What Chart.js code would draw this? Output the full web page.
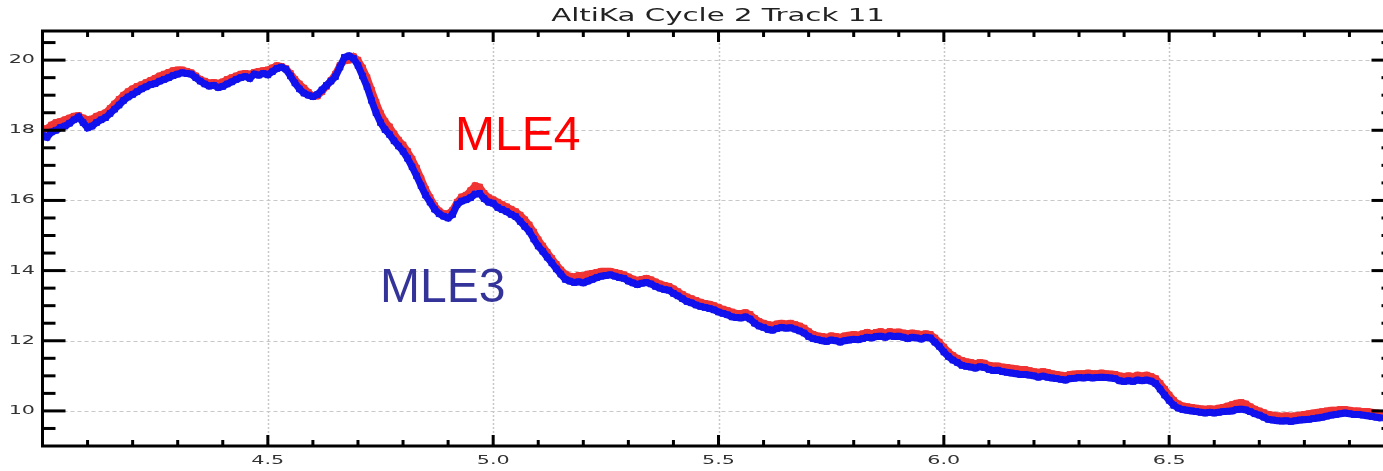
<!DOCTYPE html>
<html>
<head>
<meta charset="utf-8">
<script src="https://cdn.jsdelivr.net/npm/chart.js@4/dist/chart.umd.min.js"></script>
<style>
  html, body { margin: 0; padding: 0; background: #fff; overflow: hidden; }
  #wrap { width: 1383px; height: 471px; overflow: hidden; }
  canvas { display: block; }
</style>
</head>
<body>
<div id="wrap"><canvas id="c" width="1400" height="471"></canvas></div>
<script>
// Along-track position of each waveform
const trackX = [
  4.00,4.01,4.02,4.03,4.04,4.05,4.06,4.07,4.08,4.09,4.10,4.11,4.12,4.13,4.14,4.15,4.16,4.17,4.18,4.19,
  4.20,4.21,4.22,4.23,4.24,4.25,4.26,4.27,4.28,4.29,4.30,4.31,4.32,4.33,4.34,4.35,4.36,4.37,4.38,4.39,
  4.40,4.41,4.42,4.43,4.44,4.45,4.46,4.47,4.48,4.49,4.50,4.51,4.52,4.53,4.54,4.55,4.56,4.57,4.58,4.59,
  4.60,4.61,4.62,4.63,4.64,4.65,4.66,4.67,4.68,4.69,4.70,4.71,4.72,4.73,4.74,4.75,4.76,4.77,4.78,4.79,
  4.80,4.81,4.82,4.83,4.84,4.85,4.86,4.87,4.88,4.89,4.90,4.91,4.92,4.93,4.94,4.95,4.96,4.97,4.98,4.99,
  5.00,5.01,5.02,5.03,5.04,5.05,5.06,5.07,5.08,5.09,5.10,5.11,5.12,5.13,5.14,5.15,5.16,5.17,5.18,5.19,
  5.20,5.21,5.22,5.23,5.24,5.25,5.26,5.27,5.28,5.29,5.30,5.31,5.32,5.33,5.34,5.35,5.36,5.37,5.38,5.39,
  5.40,5.41,5.42,5.43,5.44,5.45,5.46,5.47,5.48,5.49,5.50,5.51,5.52,5.53,5.54,5.55,5.56,5.57,5.58,5.59,
  5.60,5.61,5.62,5.63,5.64,5.65,5.66,5.67,5.68,5.69,5.70,5.71,5.72,5.73,5.74,5.75,5.76,5.77,5.78,5.79,
  5.80,5.81,5.82,5.83,5.84,5.85,5.86,5.87,5.88,5.89,5.90,5.91,5.92,5.93,5.94,5.95,5.96,5.97,5.98,5.99,
  6.00,6.01,6.02,6.03,6.04,6.05,6.06,6.07,6.08,6.09,6.10,6.11,6.12,6.13,6.14,6.15,6.16,6.17,6.18,6.19,
  6.20,6.21,6.22,6.23,6.24,6.25,6.26,6.27,6.28,6.29,6.30,6.31,6.32,6.33,6.34,6.35,6.36,6.37,6.38,6.39,
  6.40,6.41,6.42,6.43,6.44,6.45,6.46,6.47,6.48,6.49,6.50,6.51,6.52,6.53,6.54,6.55,6.56,6.57,6.58,6.59,
  6.60,6.61,6.62,6.63,6.64,6.65,6.66,6.67,6.68,6.69,6.70,6.71,6.72,6.73,6.74,6.75,6.76,6.77,6.78,6.79,
  6.80,6.81,6.82,6.83,6.84,6.85,6.86,6.87,6.88,6.89,6.90,6.91,6.92,6.93,6.94,6.95,6.96,6.97
];

// MLE3 retracker estimates
const mle3 = [
  17.85,17.80,17.95,18.00,18.08,18.12,18.20,18.30,18.38,18.22,18.07,18.12,18.22,18.30,18.36,18.48,18.60,18.72,18.85,18.95,
  19.02,19.10,19.18,19.24,19.30,19.33,19.40,19.45,19.50,19.56,19.60,19.64,19.62,19.60,19.50,19.40,19.32,19.26,19.28,19.22,
  19.25,19.32,19.38,19.45,19.50,19.53,19.48,19.60,19.57,19.62,19.58,19.67,19.76,19.80,19.74,19.55,19.35,19.18,19.06,19.00,
  18.96,19.02,19.15,19.28,19.40,19.53,19.80,20.08,20.12,20.05,19.85,19.55,19.24,18.85,18.50,18.22,18.02,17.88,17.70,17.55,
  17.40,17.20,16.96,16.70,16.42,16.15,15.95,15.75,15.62,15.55,15.50,15.60,15.88,15.98,16.02,16.08,16.18,16.20,16.05,15.95,
  15.92,15.80,15.74,15.68,15.60,15.54,15.40,15.26,15.12,14.90,14.70,14.55,14.38,14.22,14.05,13.90,13.75,13.70,13.66,13.68,
  13.65,13.70,13.75,13.80,13.84,13.86,13.88,13.84,13.80,13.78,13.70,13.65,13.60,13.64,13.66,13.62,13.55,13.50,13.46,13.44,
  13.35,13.28,13.20,13.12,13.08,13.02,12.98,12.95,12.92,12.88,12.82,12.78,12.74,12.68,12.66,12.65,12.68,12.62,12.50,12.42,
  12.38,12.32,12.30,12.35,12.38,12.36,12.37,12.33,12.28,12.22,12.12,12.06,12.03,12.00,11.98,12.02,12.00,11.96,12.00,12.02,
  12.04,12.03,12.06,12.10,12.08,12.12,12.13,12.10,12.14,12.12,12.13,12.10,12.06,12.10,12.08,12.05,12.10,12.08,11.96,11.84,
  11.68,11.55,11.45,11.38,11.30,11.27,11.25,11.22,11.26,11.24,11.18,11.15,11.16,11.12,11.10,11.08,11.06,11.04,11.04,11.02,
  11.00,10.96,10.99,10.96,10.94,10.92,10.90,10.88,10.92,10.93,10.95,10.94,10.96,10.94,10.95,10.96,10.95,10.94,10.92,10.86,
  10.84,10.86,10.84,10.88,10.86,10.88,10.85,10.78,10.62,10.45,10.30,10.16,10.08,10.04,10.02,10.00,9.98,9.96,9.94,9.96,
  9.94,9.96,9.98,9.99,10.00,10.04,10.05,10.03,9.98,9.92,9.88,9.82,9.76,9.74,9.72,9.71,9.72,9.70,9.72,9.74,
  9.75,9.76,9.78,9.80,9.82,9.85,9.88,9.90,9.92,9.94,9.92,9.90,9.90,9.88,9.86,9.84,9.82,9.80
];

// MLE4 retracker estimates
const mle4 = [
  18.00,18.05,18.15,18.22,18.25,18.30,18.35,18.40,18.42,18.35,18.30,18.32,18.40,18.45,18.50,18.62,18.75,18.88,19.00,19.10,
  19.18,19.25,19.30,19.36,19.42,19.48,19.55,19.60,19.65,19.70,19.72,19.72,19.68,19.64,19.55,19.45,19.40,19.35,19.36,19.34,
  19.38,19.45,19.50,19.55,19.60,19.62,19.60,19.65,19.68,19.70,19.72,19.78,19.84,19.82,19.76,19.62,19.45,19.32,19.20,19.08,
  18.98,18.98,19.10,19.25,19.42,19.60,19.85,19.98,20.00,20.10,20.00,19.78,19.50,19.15,18.80,18.48,18.25,18.10,17.90,17.72,
  17.58,17.40,17.18,16.92,16.62,16.32,16.08,15.85,15.70,15.62,15.62,15.72,15.95,16.10,16.15,16.28,16.42,16.38,16.20,16.08,
  16.02,15.95,15.88,15.82,15.75,15.68,15.58,15.45,15.30,15.10,14.88,14.70,14.52,14.35,14.18,14.02,13.90,13.84,13.82,13.86,
  13.85,13.90,13.92,13.95,13.98,13.98,13.98,13.95,13.92,13.88,13.82,13.76,13.72,13.75,13.78,13.74,13.68,13.62,13.58,13.55,
  13.48,13.40,13.32,13.25,13.20,13.15,13.10,13.06,13.04,13.00,12.95,12.90,12.86,12.82,12.78,12.78,12.80,12.75,12.64,12.55,
  12.50,12.46,12.44,12.48,12.50,12.48,12.50,12.46,12.42,12.36,12.26,12.18,12.14,12.12,12.10,12.14,12.12,12.10,12.14,12.16,
  12.18,12.16,12.20,12.24,12.20,12.24,12.26,12.22,12.26,12.24,12.25,12.22,12.20,12.22,12.20,12.18,12.20,12.18,12.08,11.96,
  11.82,11.68,11.58,11.50,11.44,11.40,11.38,11.35,11.38,11.36,11.30,11.28,11.28,11.25,11.24,11.22,11.20,11.18,11.18,11.15,
  11.12,11.10,11.12,11.10,11.06,11.04,11.02,11.00,11.04,11.05,11.06,11.06,11.08,11.06,11.06,11.08,11.06,11.05,11.04,11.00,
  10.98,11.00,10.98,11.02,11.00,11.02,10.98,10.92,10.78,10.62,10.45,10.30,10.20,10.14,10.12,10.10,10.08,10.06,10.05,10.06,
  10.05,10.08,10.10,10.14,10.18,10.22,10.24,10.20,10.12,10.05,10.00,9.95,9.90,9.88,9.86,9.85,9.86,9.85,9.86,9.88,
  9.90,9.92,9.94,9.96,9.98,10.00,10.02,10.02,10.04,10.04,10.02,10.00,10.00,9.98,9.98,9.96,9.94,9.92
];

// Labelled ticks
const xTickLabels = [4.5, 5.0, 5.5, 6.0, 6.5];
const yTickLabels = [10, 12, 14, 16, 18, 20];

const xRange = [4.0, 7.0];
const yRange = [9.0, 20.83];
const titleText = 'AltiKa Cycle 2 Track 11';

const RED = 'rgb(240,52,52)';
const BLUE = 'rgb(18,18,238)';

function pts(ys) { return trackX.map((x, i) => ({ x: x, y: ys[i] })); }

// Draws text stretched horizontally
function wideText(ctx, txt, x, y, sx, align) {
  ctx.save();
  ctx.translate(x, y);
  ctx.scale(sx, 1);
  ctx.textAlign = align;
  ctx.fillText(txt, 0, 0);
  ctx.restore();
}

const framePlugin = {
  id: 'frame',
  beforeDatasetsDraw(chart) {
    const { ctx, chartArea: a, scales: { x, y } } = chart;
    ctx.save();
    // horizontal dashed grid
    ctx.strokeStyle = '#c8c8c8';
    ctx.lineWidth = 1.2;
    ctx.setLineDash([4, 3]);
    yTickLabels.forEach(v => {
      const py = Math.round(y.getPixelForValue(v)) + 0.5;
      ctx.beginPath(); ctx.moveTo(a.left, py); ctx.lineTo(a.right, py); ctx.stroke();
    });
    // vertical dotted grid
    ctx.lineWidth = 1.5;
    ctx.setLineDash([2, 2]);
    xTickLabels.forEach(v => {
      const px = Math.round(x.getPixelForValue(v)) + 0.5;
      ctx.beginPath(); ctx.moveTo(px, a.top); ctx.lineTo(px, a.bottom); ctx.stroke();
    });
    ctx.restore();
  },
  afterDatasetsDraw(chart) {
    const { ctx, chartArea: a, scales: { x, y } } = chart;
    ctx.save();
    ctx.strokeStyle = '#000';
    ctx.lineWidth = 3;
    ctx.setLineDash([]);
    ctx.strokeRect(a.left, a.top, a.right - a.left, a.bottom - a.top);

    // x ticks, every 0.1 with majors every 0.5
    for (let k = 41; k < 70; k++) {
      const v = k / 10;
      const px = x.getPixelForValue(v);
      const major = k % 5 === 0;
      const len = major ? 11 : 6;
      ctx.beginPath(); ctx.moveTo(px, a.bottom); ctx.lineTo(px, a.bottom - len); ctx.stroke();
      ctx.beginPath(); ctx.moveTo(px, a.top); ctx.lineTo(px, a.top + len); ctx.stroke();
    }
    // y ticks, every 0.5 with majors every 2
    for (let k = 19; k <= 41; k++) {
      const v = k / 2;
      const py = y.getPixelForValue(v);
      const major = k % 4 === 0;
      const len = major ? 23 : 13;
      ctx.beginPath(); ctx.moveTo(a.left, py); ctx.lineTo(a.left + len, py); ctx.stroke();
      ctx.beginPath(); ctx.moveTo(a.right, py); ctx.lineTo(a.right - len, py); ctx.stroke();
    }

    // tick labels
    ctx.fillStyle = '#333';
    ctx.font = '11.5px "DejaVu Sans"';
    ctx.textBaseline = 'middle';
    yTickLabels.forEach(v => {
      wideText(ctx, String(v), 35, y.getPixelForValue(v), 1.8, 'right');
    });
    xTickLabels.forEach(v => {
      wideText(ctx, v.toFixed(1), x.getPixelForValue(v), 461, 1.8, 'center');
    });

    // title
    ctx.fillStyle = '#222';
    ctx.font = '17px "DejaVu Sans"';
    wideText(ctx, titleText, 718, 16.5, 1.72, 'center');

    // series labels
    ctx.textBaseline = 'alphabetic';
    ctx.textAlign = 'left';
    ctx.font = '48px "Liberation Sans", Arial, sans-serif';
    ctx.fillStyle = '#ff0000';
    ctx.fillText('MLE4', 455, 150);
    ctx.fillStyle = '#333399';
    ctx.fillText('MLE3', 380, 302);
    ctx.restore();
  }
};

new Chart(document.getElementById('c'), {
  type: 'scatter',
  data: {
    datasets: [
      {
        label: 'MLE4', data: pts(mle4), order: 2,
        showLine: true, borderColor: RED, borderWidth: 7, tension: 0,
        pointStyle: 'rect', pointRadius: 4, pointBackgroundColor: RED, pointBorderColor: RED, pointBorderWidth: 1
      },
      {
        label: 'MLE3', data: pts(mle3), order: 1,
        showLine: true, borderColor: BLUE, borderWidth: 7, tension: 0,
        pointStyle: 'rect', pointRadius: 4, pointBackgroundColor: BLUE, pointBorderColor: BLUE, pointBorderWidth: 1
      }
    ]
  },
  options: {
    responsive: false,
    animation: false,
    devicePixelRatio: 1,
    layout: { padding: { top: 31, right: 5.5, left: 0, bottom: 0 } },
    plugins: { legend: { display: false }, tooltip: { enabled: false }, title: { display: false } },
    scales: {
      x: {
        type: 'linear', min: xRange[0], max: xRange[1],
        ticks: { display: false }, grid: { display: false }, border: { display: false },
        afterFit(s) { s.height = 25; }
      },
      y: {
        type: 'linear', min: yRange[0], max: yRange[1],
        ticks: { display: false }, grid: { display: false }, border: { display: false },
        afterFit(s) { s.width = 42.5; }
      }
    }
  },
  plugins: [framePlugin]
});
</script>
</body>
</html>
